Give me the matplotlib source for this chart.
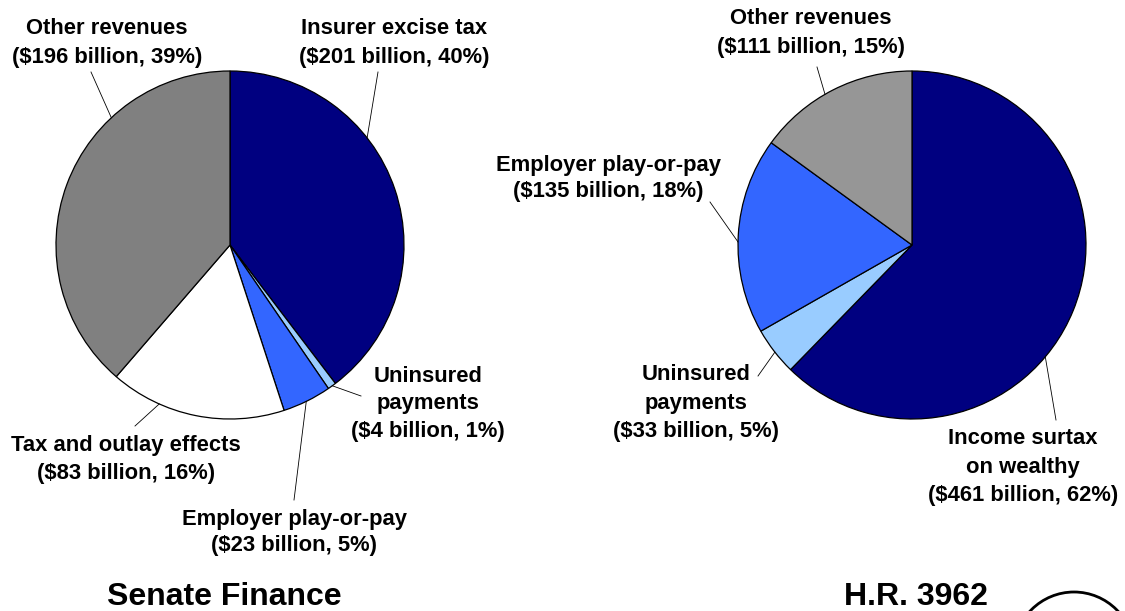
import numpy as np
import matplotlib
matplotlib.use("Agg")
import matplotlib.pyplot as plt
from matplotlib.patches import Circle

W, H = 1125, 611

# Senate Finance plan
left_names = ["Insurer excise tax", "Uninsured\npayments", "Employer play-or-pay",
              "Tax and outlay effects", "Other revenues"]
left_values = [201, 4, 23, 83, 196]
left_pcts = [40, 1, 5, 16, 39]
left_colors = ["#000080", "#99CCFF", "#3366FF", "#FFFFFF", "#808080"]

# H.R. 3962
right_names = ["Income surtax\non wealthy", "Uninsured\npayments",
               "Employer play-or-pay", "Other revenues"]
right_values = [461, 33, 135, 111]
right_pcts = [62, 5, 18, 15]
right_colors = ["#000080", "#99CCFF", "#3366FF", "#969696"]

titles = ["Senate Finance", "H.R. 3962"]

# layout, pixel coords from top-left: label centre x, first line y, line step,
# leader start point and angle where the leader meets the pie edge
left_layout = [(394, 29, 28, (378, 72), 38),
               (428, 377, 27, (361, 396), -54),
               (294, 519, 27, (294, 500), -64),
               (126, 445, 29, (135, 426), -114),
               (107, 29, 28, (91, 72), 133)]
right_layout = [(1023, 439, 28, (1056, 420), -40),
                (696, 375, 28, (758, 376), -142),
                (608, 165, 27, (710, 202), 179),
                (811, 18, 29, (817, 67), 120)]

FONT = "Liberation Sans"
RADIUS = 174


def label_text(name, value, pct):
    return name + "\n(${} billion, {}%)".format(value, pct)


def draw_pie(ax, values, colors, names, pcts, layout, cx, cy):
    ax.pie(values, colors=colors, startangle=90, counterclock=False,
           center=(cx, H - cy), radius=RADIUS,
           wedgeprops=dict(edgecolor="black", linewidth=0.9))
    for name, v, p, (tx, ty, step, (lx, ly), ang) in zip(names, values, pcts, layout):
        lines = label_text(name, v, p).split("\n")
        for i, line in enumerate(lines):
            ax.text(tx, H - (ty + i * step), line, ha="center", va="center",
                    fontsize=15.8, fontweight="bold", family=FONT, color="black")
        a = np.radians(ang)
        ex = cx + RADIUS * np.cos(a)
        ey = cy - RADIUS * np.sin(a)
        ax.plot([lx, ex], [H - ly, H - ey], color="black", linewidth=0.6)


fig = plt.figure(figsize=(W / 100, H / 100), dpi=100)
ax = fig.add_axes([0, 0, 1, 1])

draw_pie(ax, left_values, left_colors, left_names, left_pcts, left_layout, 230, 245)
draw_pie(ax, right_values, right_colors, right_names, right_pcts, right_layout, 912, 245)

ax.text(224, H - 597, titles[0], ha="center", va="center", fontsize=23,
        fontweight="bold", family=FONT)
ax.text(916, H - 597, titles[1], ha="center", va="center", fontsize=23,
        fontweight="bold", family=FONT)

# partial logo circle at bottom right
ax.add_patch(Circle((1074, H - 652), 60, fill=False, edgecolor="black", linewidth=2))

ax.set_xlim(0, W)
ax.set_ylim(0, H)
ax.set_aspect("equal")
ax.axis("off")

fig.savefig("out.png", dpi=100)
